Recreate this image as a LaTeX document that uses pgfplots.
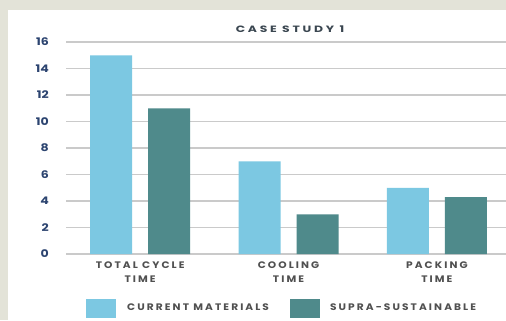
\documentclass[border=0pt]{standalone}
\usepackage{pgfplots}
\pgfplotsset{compat=1.18}
\usepackage{fontspec}
\setmainfont{Poppins}
% wide, spaced capitals for labels and title
\newfontfamily\capsfont[LetterSpace=22, FakeStretch=1.12]{Poppins}
\newfontfamily\titlefont[LetterSpace=30, FakeStretch=1.35]{Poppins}
\newfontfamily\numfont[FakeStretch=1.2]{Poppins}

\definecolor{current}{HTML}{7CC8E2}
\definecolor{supra}{HTML}{4F8A8B}
\definecolor{backdrop}{HTML}{E3E3D8}
\definecolor{ticknavy}{HTML}{2C4470}
\definecolor{catgray}{HTML}{505050}
\definecolor{titlegray}{HTML}{3A4650}
\definecolor{gridgray}{HTML}{CACACA}

\begin{document}
\begin{tikzpicture}[x=1bp,y=1bp]
\useasboundingbox (0,0) rectangle (506,320);
\fill[backdrop] (0,0) rectangle (506,320);
\fill[white] (8,0) rectangle (506,310);

\begin{axis}[
  at={(66bp,66bp)}, anchor=south west,
  scale only axis, width=440bp, height=212bp,
  xmin=-0.5, xmax=2.466, ymin=0, ymax=16,
  ybar=16bp, bar width=42bp,
  xtick={0,1,2},
  xticklabels={{TOTAL\ CYCLE\\TIME},{COOLING\\TIME},{PACKING\\TIME}},
  ytick={0,2,...,16},
  ymajorgrids, grid style={gridgray, line width=1.7bp},
  axis line style={draw=none}, major tick length=0pt,
  /pgf/number format/assume math mode=true,
  xticklabel style={font=\capsfont\bfseries\fontsize{9.5}{14}\selectfont, text=catgray,
    align=center, inner sep=0pt, anchor=north, yshift=-8bp},
  yticklabel style={font=\numfont\bfseries\fontsize{10.5}{11}\selectfont, text=ticknavy,
    inner sep=0pt, anchor=east, xshift=-17bp},
  legend columns=2,
  legend style={at={(0.0455,-0.2547)}, anchor=west, draw=none, fill=none,
    inner sep=0pt, font=\capsfont\bfseries\fontsize{9.5}{10}\selectfont, text=catgray,
    /tikz/every even column/.style={column sep=21bp},
    nodes={inner sep=0pt, outer sep=0pt}},
  legend cell align=left,
]
\addplot[fill=current, draw=none,
  legend image code/.code={\fill[current] (0bp,-9.5bp) rectangle (30bp,9.5bp); \path (41bp,0bp);}]
  coordinates {(0,15) (1,7) (2,5)};
\addplot[fill=supra, draw=none,
  legend image code/.code={\fill[supra] (0bp,-9.5bp) rectangle (30bp,9.5bp); \path (40bp,0bp);}]
  coordinates {(0,11) (1,3) (2,4.3)};
\legend{CURRENT MATERIALS, SUPRA-SUSTAINABLE}
\end{axis}

\node[font=\titlefont\bfseries\fontsize{9.2}{10}\selectfont, text=titlegray]
  at (290,291) {CASE STUDY 1};
\end{tikzpicture}
\end{document}
